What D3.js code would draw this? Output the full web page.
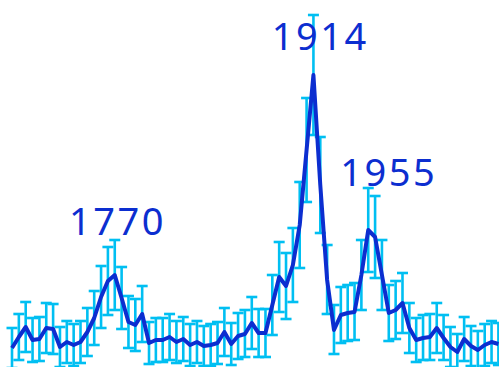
<!DOCTYPE html>
<html>
<head>
<meta charset="utf-8">
<script src="https://cdn.jsdelivr.net/npm/d3@7"></script>
<style>
  html, body { margin: 0; padding: 0; background: #fff; }
</style>
</head>
<body>
<svg id="chart"></svg>
<script>
// 5-year bins, one count per bin, with lower / upper error bounds
const years = d3.range(1695, 2051, 5);
const counts = [33, 44, 54, 41, 42, 53, 52, 34, 39, 36, 39, 49, 63, 84, 100, 106, 83, 59, 56, 67,
  38, 41, 41, 44, 39, 42, 36, 39, 35, 36, 38, 49, 37, 45, 47, 58, 48, 48, 76, 104,
  95, 116, 156, 231, 306, 196, 101, 51, 66, 68, 69, 106, 151, 144, 106, 68, 71, 78, 53, 41,
  43, 44, 53, 43, 34, 29, 42, 35, 31, 36, 39, 37];
const lower = [13, 21, 29, 19, 20, 28, 27, 14, 18, 15, 18, 25, 36, 53, 66, 71, 52, 33, 30, 39,
  17, 19, 19, 21, 18, 20, 15, 18, 15, 15, 17, 25, 16, 22, 24, 32, 24, 24, 46, 69,
  62, 79, 113, 179, 246, 148, 67, 27, 38, 40, 41, 71, 109, 103, 71, 40, 42, 48, 28, 19,
  21, 21, 28, 21, 14, 11, 20, 15, 12, 15, 18, 16];
const upper = [53, 67, 79, 63, 64, 78, 77, 54, 60, 57, 60, 73, 90, 115, 134, 141, 114, 85, 82, 95,
  59, 63, 63, 67, 60, 64, 57, 60, 55, 57, 59, 73, 58, 68, 71, 84, 72, 72, 106, 139,
  128, 153, 199, 283, 366, 244, 136, 76, 94, 96, 98, 141, 193, 185, 141, 96, 100, 108, 78, 63,
  66, 67, 78, 66, 54, 47, 64, 55, 50, 57, 60, 58];

// peak annotations
const labelText = ["1770", "1914", "1955"];
const labelYear = [1772, 1920, 1970];
const labelValue = [146, 331, 195];

const width = 499;
const height = 367;
const svg = d3.select("#chart").attr("width", width).attr("height", height);

const x = d3.scaleLinear().domain([1695, 2050]).range([12, 498.4]);
const y = d3.scaleLinear().domain([0, 381]).range([381, 0]);

const data = years.map((yr, i) => ({ year: yr, value: counts[i], lo: lower[i], hi: upper[i] }));

const blue = "#0c2ed0";
const cyan = "#00bff2";
const capW = 5.5;

// error bars
const bars = svg.append("g")
  .attr("stroke", cyan)
  .attr("stroke-width", 2.6)
  .selectAll("g")
  .data(data)
  .join("g");

bars.append("line")
  .attr("x1", d => x(d.year)).attr("x2", d => x(d.year))
  .attr("y1", d => y(d.lo)).attr("y2", d => y(d.hi));

bars.append("line")
  .attr("x1", d => x(d.year) - capW).attr("x2", d => x(d.year) + capW)
  .attr("y1", d => y(d.hi)).attr("y2", d => y(d.hi));

bars.append("line")
  .attr("x1", d => x(d.year) - capW).attr("x2", d => x(d.year) + capW)
  .attr("y1", d => y(d.lo)).attr("y2", d => y(d.lo));

// main line
const line = d3.line().x(d => x(d.year)).y(d => y(d.value));

svg.append("path")
  .datum(data)
  .attr("d", line)
  .attr("fill", "none")
  .attr("stroke", blue)
  .attr("stroke-width", 4)
  .attr("stroke-linejoin", "round");

// labels
svg.append("g")
  .selectAll("text")
  .data(labelText)
  .join("text")
  .attr("x", (d, i) => x(labelYear[i]))
  .attr("y", (d, i) => y(labelValue[i]))
  .attr("text-anchor", "middle")
  .attr("fill", blue)
  .style("font-family", "'Noto Sans', sans-serif")
  .style("font-size", "38px")
  .style("letter-spacing", "2.5px")
  .text(d => d);
</script>
</body>
</html>
